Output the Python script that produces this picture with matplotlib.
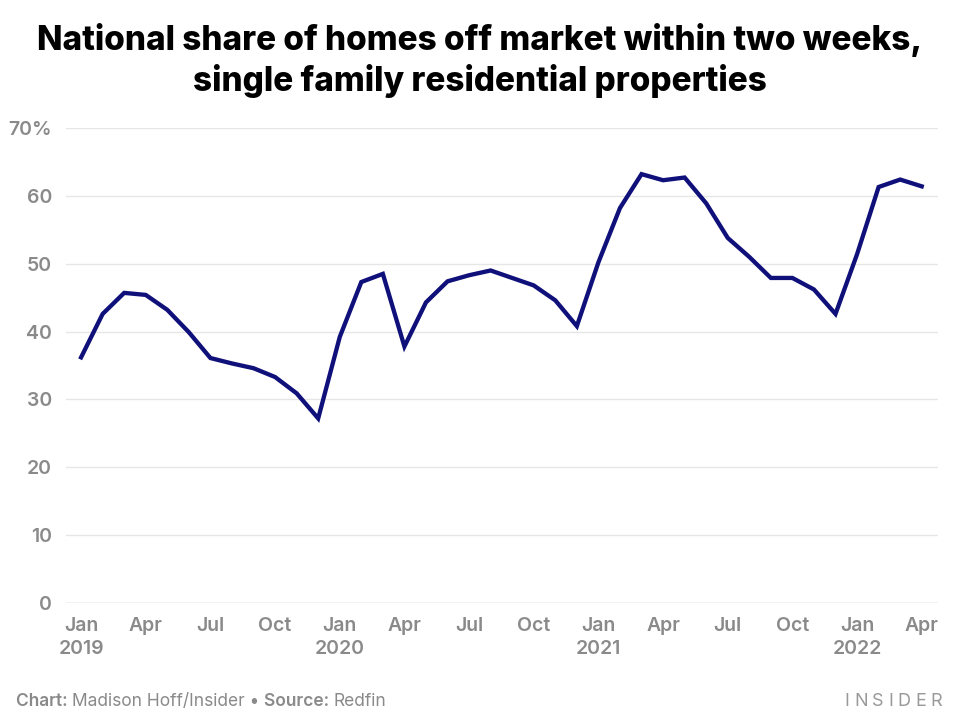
import matplotlib
matplotlib.use("Agg")
import matplotlib.pyplot as plt

# monthly share of homes off market within two weeks, Jan 2019 - Apr 2022
share = [36.2, 42.6, 45.7, 45.4, 43.2, 39.9, 36.1, 35.3, 34.6, 33.3, 30.9, 27.2,
         39.2, 47.3, 48.5, 37.8, 44.3, 47.4, 48.3, 49.0, 47.9, 46.8, 44.6, 40.8,
         50.2, 58.2, 63.2, 62.3, 62.7, 58.9, 53.8, 51.0, 47.9, 47.9, 46.2, 42.6,
         51.4, 61.3, 62.4, 61.4]
tick_pos = list(range(0, 40, 3))
tick_labels = ["Jan\n2019", "Apr", "Jul", "Oct", "Jan\n2020", "Apr", "Jul", "Oct",
               "Jan\n2021", "Apr", "Jul", "Oct", "Jan\n2022", "Apr"]
y_ticks = [0, 10, 20, 30, 40, 50, 60, 70]
y_labels = ["0", "10", "20", "30", "40", "50", "60", "70%"]

plt.rcParams['font.family'] = ['Inter', 'DejaVu Sans']
gray = "#8a8a8a"

fig = plt.figure(figsize=(9.6, 7.28), dpi=100)
ax = fig.add_axes([0.06875, 0.1717, 0.908, 0.6525])

ax.plot(range(len(share)), share, color="#10107a", lw=3.1, solid_joinstyle="miter",
        clip_on=False, zorder=3)

ax.set_xlim(-0.7, 39.74)
ax.set_ylim(0, 70)
ax.set_yticks(y_ticks)
ax.set_yticklabels(y_labels)
ax.set_xticks(tick_pos)
ax.set_xticklabels(tick_labels, linespacing=1.35)
for y in y_ticks:
    ax.axhline(y, color="#bdbdbd" if y == 0 else "#e6e6e6", lw=1, zorder=1)
for s in ax.spines.values():
    s.set_visible(False)
ax.tick_params(axis="both", length=0, labelsize=14, labelcolor=gray)
ax.tick_params(axis="y", pad=10)
ax.tick_params(axis="x", pad=10)
for lab in ax.get_xticklabels() + ax.get_yticklabels():
    lab.set_fontweight("semibold")

fig.text(0.5, 0.968, "National share of homes off market within two weeks,\nsingle family residential properties",
         ha="center", va="top", fontsize=24, fontweight="heavy", color="black", linespacing=1.25)

# footer with mixed weights
fig.canvas.draw()
r = fig.canvas.get_renderer()
x = 16
for txt, w in [("Chart: ", "semibold"), ("Madison Hoff/Insider • ", "normal"),
               ("Source: ", "semibold"), ("Redfin", "normal")]:
    t = fig.text(x / 960, 27 / 728, txt, fontsize=12.5, fontweight=w, color=gray, va="center")
    x += t.get_window_extent(r).width

x = 942
for ch in reversed("INSIDER"):
    t = fig.text(x / 960, 26 / 728, ch, fontsize=13, color="#999999", va="center", ha="right")
    x -= t.get_window_extent(r).width + 4.5

fig.savefig("out.png", dpi=100)
